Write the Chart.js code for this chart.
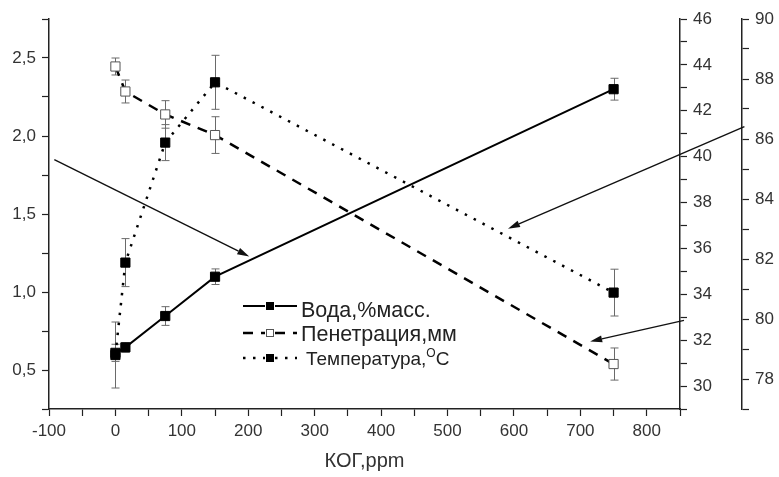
<!DOCTYPE html>
<html>
<head>
<meta charset="utf-8">
<script src="https://cdn.jsdelivr.net/npm/chart.js@4.4.0/dist/chart.umd.min.js"></script>
<style>
  html, body { margin: 0; padding: 0; background: #fff; }
  #wrap { width: 779px; height: 477px; }
</style>
</head>
<body>
<div id="wrap"><canvas id="chart" width="779" height="477"></canvas></div>
<script>
// КОГ, ppm
const kog = [0, 15, 75, 150, 750];
// Вода, %масс. (левая ось)
const voda = [0.61, 0.645, 0.846, 1.098, 2.30];
const vodaErr = [0.055, 0.03, 0.06, 0.05, 0.07];
// Пенетрация, мм (первая правая ось)
const penetr = [43.93, 42.84, 41.84, 40.94, 30.96];
const penetrErr = [0.37, 0.5, 0.6, 0.8, 0.7];
// Температура, °C (вторая правая ось)
const temp = [78.8, 81.88, 85.88, 87.89, 80.88];
const tempErr = [1.1, 0.8, 0.6, 0.9, 0.78];

// стрелки-подписи: [x0, y0, x1, y1] в единицах оси X и левой оси
const arrows = [
  [-92, 1.848, 201.5, 1.228],
  [947, 2.06, 591, 1.406],
  [856, 0.818, 714.7, 0.683]
];

const tickFont = { family: 'Liberation Sans, Arial, sans-serif', size: 17 };
const ink = '#222';

function toPts(ys) {
  return kog.map((x, i) => ({ x: x, y: ys[i] }));
}

function axisGrid() {
  return { display: true, drawOnChartArea: false, drawTicks: true, tickLength: 7, tickColor: ink, tickWidth: 1.2 };
}

const overlay = {
  id: 'overlay',
  beforeDatasetsDraw(chart) {
    const ctx = chart.ctx;
    const xs = chart.scales.x;
    const sets = [
      [voda, vodaErr, chart.scales.y],
      [penetr, penetrErr, chart.scales.y1],
      [temp, tempErr, chart.scales.y2]
    ];
    ctx.save();
    ctx.strokeStyle = '#6a6a6a';
    ctx.lineWidth = 1;
    sets.forEach(([vals, errs, ys]) => {
      vals.forEach((v, i) => {
        const px = Math.round(xs.getPixelForValue(kog[i])) + 0.5;
        const t = ys.getPixelForValue(v + errs[i]);
        const b = ys.getPixelForValue(v - errs[i]);
        ctx.beginPath();
        ctx.moveTo(px, t); ctx.lineTo(px, b);
        ctx.moveTo(px - 4, t); ctx.lineTo(px + 4, t);
        ctx.moveTo(px - 4, b); ctx.lineTo(px + 4, b);
        ctx.stroke();
      });
    });
    ctx.restore();
  },
  afterDraw(chart) {
    const ctx = chart.ctx;
    const xs = chart.scales.x, ys = chart.scales.y;
    ctx.save();
    // стрелки
    ctx.strokeStyle = '#111';
    ctx.fillStyle = '#111';
    ctx.lineWidth = 1.4;
    arrows.forEach(a => {
      const x0 = xs.getPixelForValue(a[0]), y0 = ys.getPixelForValue(a[1]);
      const x1 = xs.getPixelForValue(a[2]), y1 = ys.getPixelForValue(a[3]);
      const ang = Math.atan2(y1 - y0, x1 - x0);
      const len = 12, hw = 3.5;
      const bx = x1 - len * Math.cos(ang), by = y1 - len * Math.sin(ang);
      ctx.beginPath();
      ctx.moveTo(x0, y0); ctx.lineTo(bx, by);
      ctx.stroke();
      ctx.beginPath();
      ctx.moveTo(x1, y1);
      ctx.lineTo(bx + hw * Math.sin(ang), by - hw * Math.cos(ang));
      ctx.lineTo(bx - hw * Math.sin(ang), by + hw * Math.cos(ang));
      ctx.closePath();
      ctx.fill();
    });

    // легенда
    const rows = [
      { y: 306, base: 317, ds: 0, size: 21.5, parts: [['Вода,%масс.', 0]] },
      { y: 333, base: 341, ds: 1, size: 21.5, parts: [['Пенетрация,мм', 0]] },
      { y: 358, base: 365, ds: 2, size: 19, parts: [['Температура,', 0], ['O', -8, 12], ['C', 0]] }
    ];
    const lx0 = 243, lx1 = 297, lmid = 270;
    rows.forEach(r => {
      const d = chart.data.datasets[r.ds];
      ctx.save();
      ctx.strokeStyle = d.borderColor;
      ctx.lineWidth = d.borderWidth;
      ctx.setLineDash(d.borderDash || []);
      ctx.beginPath();
      ctx.moveTo(lx0, r.y); ctx.lineTo(lmid - 5, r.y);
      ctx.moveTo(lmid + 5, r.y); ctx.lineTo(lx1, r.y);
      ctx.stroke();
      ctx.setLineDash([]);
      ctx.fillStyle = d.pointBackgroundColor;
      ctx.fillRect(lmid - 3.5, r.y - 3.5, 7, 7);
      ctx.strokeStyle = d.pointBorderColor;
      ctx.lineWidth = 1;
      ctx.strokeRect(lmid - 3.5, r.y - 3.5, 7, 7);
      ctx.restore();
      let tx = r.ds === 2 ? 306 : 301;
      ctx.fillStyle = '#222';
      ctx.textBaseline = 'alphabetic';
      r.parts.forEach(p => {
        ctx.font = (p[2] || r.size) + 'px "Liberation Sans", Arial, sans-serif';
        ctx.fillText(p[0], tx, r.base + p[1]);
        tx += ctx.measureText(p[0]).width;
      });
    });
    ctx.restore();
  }
};

new Chart(document.getElementById('chart'), {
  type: 'line',
  data: {
    datasets: [
      {
        label: 'Вода,%масс.', data: toPts(voda), yAxisID: 'y',
        borderColor: '#000', borderWidth: 2, pointStyle: 'rect', pointRadius: 6.5,
        pointBackgroundColor: '#000', pointBorderColor: '#000', pointBorderWidth: 1
      },
      {
        label: 'Пенетрация,мм', data: toPts(penetr), yAxisID: 'y1',
        borderColor: '#000', borderWidth: 2.5, borderDash: [10, 8], pointStyle: 'rect', pointRadius: 6.5,
        pointBackgroundColor: '#fff', pointBorderColor: '#555', pointBorderWidth: 1
      },
      {
        label: 'Температура,°C', data: toPts(temp), yAxisID: 'y2',
        borderColor: '#000', borderWidth: 2.5, borderDash: [2.5, 7.5], pointStyle: 'rect', pointRadius: 6.5,
        pointBackgroundColor: '#000', pointBorderColor: '#000', pointBorderWidth: 1
      }
    ]
  },
  options: {
    responsive: false,
    animation: false,
    layout: { padding: { top: 19, left: 0, right: 0, bottom: 0 } },
    plugins: { legend: { display: false }, tooltip: { enabled: false } },
    scales: {
      x: {
        type: 'linear', min: -100, max: 850,
        border: { display: true, color: ink, width: 1.5 },
        grid: axisGrid(),
        ticks: {
          stepSize: 50, autoSkip: false, maxRotation: 0, padding: 5, color: '#333', font: tickFont,
          callback: v => (v % 100 === 0 ? String(v) : '')
        },
        title: { display: true, text: 'КОГ,ppm', color: '#333', font: { family: 'Liberation Sans, Arial, sans-serif', size: 20 }, padding: { top: 4, bottom: 4 } },
        afterFit: s => { s.height = 68; }
      },
      y: {
        type: 'linear', position: 'left', min: 0.25, max: 2.75,
        border: { display: true, color: ink, width: 1.5 },
        grid: axisGrid(),
        ticks: {
          stepSize: 0.25, autoSkip: false, padding: 6, color: '#333', font: tickFont,
          callback: v => (Math.abs(v * 2 - Math.round(v * 2)) < 1e-6 ? v.toFixed(1).replace('.', ',') : '')
        },
        afterFit: s => { s.width = 49; }
      },
      y1: {
        type: 'linear', position: 'right', min: 29, max: 46, weight: 0,
        border: { display: true, color: ink, width: 1.5 },
        grid: axisGrid(),
        ticks: {
          stepSize: 1, autoSkip: false, padding: 6, color: '#333', font: tickFont,
          callback: v => (v % 2 === 0 ? String(v) : '')
        },
        afterFit: s => { s.width = 62; }
      },
      y2: {
        type: 'linear', position: 'right', min: 77, max: 90, weight: 1,
        border: { display: true, color: ink, width: 1.5 },
        grid: axisGrid(),
        ticks: {
          stepSize: 1, autoSkip: false, padding: 6, color: '#333', font: tickFont,
          callback: v => (v % 2 === 0 ? String(v) : '')
        },
        afterFit: s => { s.width = 37; }
      }
    }
  },
  plugins: [overlay]
});
</script>
</body>
</html>
